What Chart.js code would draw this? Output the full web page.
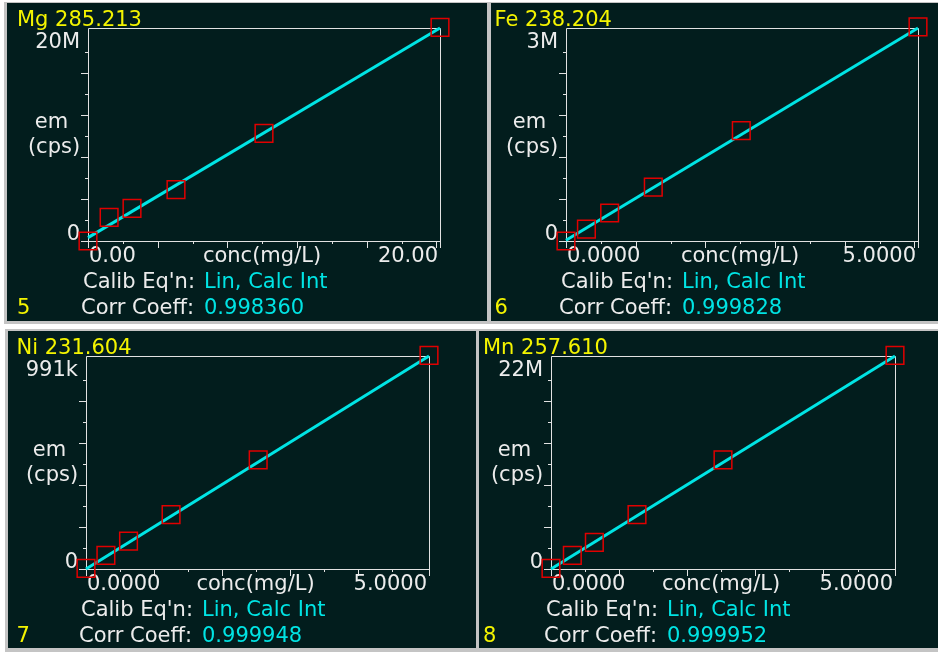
<!DOCTYPE html>
<html>
<head>
<meta charset="utf-8">
<script src="https://cdn.jsdelivr.net/npm/chart.js@4.4.0/dist/chart.umd.min.js"></script>
<style>
  body { margin: 0; background: #fff; width: 938px; height: 653px; position: relative; overflow: hidden; }
  .band { position: absolute; background: #c4c4c4; }
  .panel { position: absolute; background: #021d1d; }
  canvas { display: block; }
</style>
</head>
<body>
<div class="band" style="left:4px;top:2px;width:934px;height:322px"></div>
<div class="band" style="left:5px;top:329px;width:933px;height:323px"></div>
<div class="panel" style="left:7px;top:3px;width:480px;height:318px"><canvas id="c0" width="480" height="318"></canvas></div>
<div class="panel" style="left:491px;top:3px;width:447px;height:318px"><canvas id="c1" width="447" height="318"></canvas></div>
<div class="panel" style="left:8px;top:331px;width:468px;height:317px"><canvas id="c2" width="468" height="317"></canvas></div>
<div class="panel" style="left:479px;top:331px;width:459px;height:317px"><canvas id="c3" width="459" height="317"></canvas></div>
<script>
// labels
const elements = ['Mg 285.213', 'Fe 238.204', 'Ni 231.604', 'Mn 257.610'];
const panelNo = ['5', '6', '7', '8'];
const corrCoeff = ['0.998360', '0.999828', '0.999948', '0.999952'];
const calibEq = 'Lin, Calc Int';
const yTopLabels = ['20M', '3M', '991k', '22M'];
const xMinLabels = ['0.00', '0.0000', '0.0000', '0.0000'];
const xMaxLabels = ['20.00', '5.0000', '5.0000', '5.0000'];

// axis ranges
const xMax = [20, 5, 5, 5];
const xStep = [1.98, 0.495, 0.495, 0.495];
const yMax = [20.3e6, 3.04e6, 991e3, 22.3e6];
const yStep = [2.0e6, 0.3e6, 97.7e3, 2.2e6];

// standards: concentration (mg/L) and emission (cps)
const mgConc = [0, 1.2, 2.5, 5, 10, 20];
const mgEm = [0, 2.25e6, 3.11e6, 4.89e6, 10.25e6, 20.36e6];
const mgFit = [0.32e6, 20.3e6];

const feConc = [0, 0.29, 0.62, 1.24, 2.49, 5.0];
const feEm = [0, 0.17e6, 0.40e6, 0.77e6, 1.575e6, 3.055e6];
const feFit = [0.01e6, 3.04e6];

const niConc = [0, 0.29, 0.62, 1.24, 2.51, 5.0];
const niEm = [3e3, 63e3, 130e3, 253e3, 508e3, 994e3];
const niFit = [0, 991e3];

const mnConc = [0, 0.31, 0.63, 1.25, 2.5, 5.0];
const mnEm = [0.07e6, 1.43e6, 2.79e6, 5.69e6, 11.43e6, 22.37e6];
const mnFit = [0, 22.3e6];

const conc = [mgConc, feConc, niConc, mnConc];
const em = [mgEm, feEm, niEm, mnEm];
const fit = [mgFit, feFit, niFit, mnFit];

// plot area inside each canvas
const pads = [
  {left: 81, top: 25, right: 47, bottom: 80},
  {left: 75, top: 25, right: 20, bottom: 80},
  {left: 78, top: 25, right: 47, bottom: 79},
  {left: 72, top: 25, right: 43, bottom: 79}
];
const titleDx = [-71, -71.5, -69.5, -68];

const FONT = '21px "DejaVu Sans"';
const WHITE = '#ececec';
const YELLOW = '#f4f400';
const CYAN = '#00e4e4';

function decor(i) {
  return {
    id: 'decor' + i,
    beforeDatasetsDraw(chart) {
      const ctx = chart.ctx, a = chart.chartArea;
      const x = chart.scales.x, y = chart.scales.y;
      ctx.save();
      ctx.strokeStyle = '#e2e2e2';
      ctx.lineWidth = 1;
      ctx.beginPath();
      ctx.rect(a.left + 0.5, a.top + 0.5, a.right - a.left, a.bottom - a.top);
      for (let k = 0; ; k++) {
        const px = Math.round(x.getPixelForValue(k * xStep[i]));
        if (px > a.right - 4) break;
        const len = k % 2 === 0 ? 7 : 3;
        ctx.moveTo(px + 0.5, a.bottom);
        ctx.lineTo(px + 0.5, a.bottom + len);
      }
      ctx.moveTo(a.right + 0.5, a.bottom);
      ctx.lineTo(a.right + 0.5, a.bottom + 7);
      for (let k = 0; ; k++) {
        const py = Math.round(y.getPixelForValue(k * yStep[i]));
        if (py < a.top + 5) break;
        const len = k % 2 === 0 ? 7 : 3;
        ctx.moveTo(a.left, py + 0.5);
        ctx.lineTo(a.left - len, py + 0.5);
      }
      ctx.stroke();

      ctx.font = FONT;
      ctx.textBaseline = 'alphabetic';
      ctx.fillStyle = YELLOW;
      ctx.textAlign = 'left';
      ctx.fillText(elements[i], a.left + titleDx[i], a.top - 2.5);
      ctx.fillText(panelNo[i], a.left + titleDx[i], a.bottom + 72.5);

      ctx.fillStyle = WHITE;
      ctx.textAlign = 'right';
      ctx.fillText(yTopLabels[i], a.left - 8, a.top + 20);
      ctx.fillText('0', a.left - 8, a.bottom - 1.5);
      ctx.fillText(xMaxLabels[i], a.right - 2, a.bottom + 20.5);
      ctx.textAlign = 'center';
      ctx.fillText('em', a.left - 36.5, a.top + 100);
      ctx.fillText('(cps)', a.left - 34, a.top + 125);
      ctx.fillText('conc(mg/L)', (a.left + a.right) / 2 - 2, a.bottom + 20.5);
      ctx.textAlign = 'left';
      ctx.fillText(xMinLabels[i], a.left + 1, a.bottom + 20.5);
      ctx.fillText("Calib Eq'n:", a.left - 5, a.bottom + 46.5);
      ctx.fillText('Corr Coeff:', a.left - 7, a.bottom + 72.5);

      ctx.fillStyle = CYAN;
      ctx.fillText(calibEq, a.left + 116, a.bottom + 46.5);
      ctx.fillText(corrCoeff[i], a.left + 116, a.bottom + 72.5);
      ctx.restore();
    }
  };
}

for (let i = 0; i < 4; i++) {
  new Chart(document.getElementById('c' + i), {
    type: 'scatter',
    data: {
      datasets: [
        {
          data: conc[i].map((c, j) => ({x: c, y: em[i][j]})),
          pointStyle: 'rect',
          pointRadius: 12.5,
          pointBorderWidth: 1.5,
          pointBorderColor: '#e00000',
          pointBackgroundColor: 'rgba(0,0,0,0)',
          clip: false
        },
        {
          data: [{x: 0, y: fit[i][0]}, {x: xMax[i], y: fit[i][1]}],
          showLine: true,
          borderColor: CYAN,
          borderWidth: 3,
          pointRadius: 0,
          clip: false
        }
      ]
    },
    options: {
      responsive: false,
      animation: false,
      devicePixelRatio: 1,
      events: [],
      layout: {padding: pads[i]},
      plugins: {legend: {display: false}, tooltip: {enabled: false}},
      scales: {
        x: {type: 'linear', min: 0, max: xMax[i], display: false},
        y: {type: 'linear', min: 0, max: yMax[i], display: false}
      }
    },
    plugins: [decor(i)]
  });
}
</script>
</body>
</html>
